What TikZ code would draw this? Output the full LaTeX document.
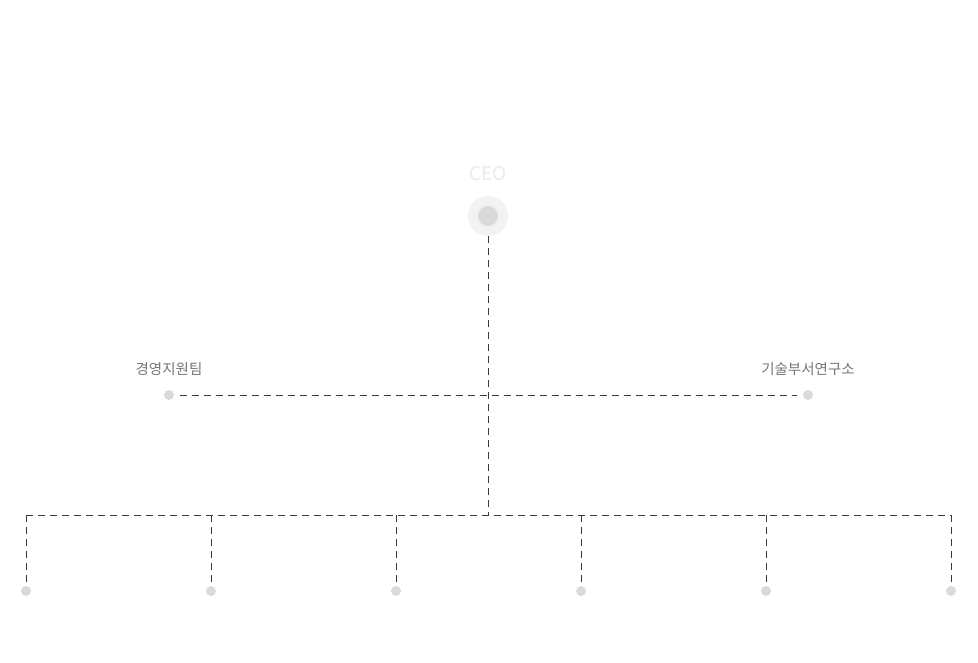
\documentclass[tikz,border=0pt]{standalone}
\usepackage{fontspec}
\setmainfont{Noto Sans CJK KR}
\usetikzlibrary{positioning}
\definecolor{dotgray}{HTML}{DADADA}
\definecolor{ringgray}{HTML}{F2F2F2}
\definecolor{labelgray}{HTML}{777777}
\definecolor{ceogray}{HTML}{EBEBEB}
\definecolor{linegray}{HTML}{3A3A3A}

\begin{document}
\begin{tikzpicture}[x=1pt,y=-1pt]
\tikzstyle{dot}=[circle, inner sep=0pt, minimum size = 10pt, fill = dotgray]
\tikzstyle{label}=[text = labelgray, font=\fontsize{14.5}{16}\selectfont]
\tikzstyle{connect}=[draw = linegray, line width=1pt, dash pattern=on 7pt off 5pt]

\useasboundingbox[fill=white] (0,0) rectangle (978,662);

% CEO
\node[text = ceogray, font=\fontsize{19}{21}\selectfont] at (488,174) (ceotext) {CEO};
\node[circle, inner sep=0pt, minimum size = 40pt, fill = ringgray] at (488,216) (ceo) {};
\node[dot, minimum size = 20pt] at (488,216) (ceodot) {};

% support teams
\node[dot] at (169,395) (mgmt) {};
\node[dot] at (808,395) (lab) {};
\node[label] at (169,369) (mgmttext) {경영지원팀};
\node[label] at (808,369) (labtext) {기술부서연구소};

% bottom row
\node[dot] at (26,591) (team1) {};
\node[dot] at (211,591) (team2) {};
\node[dot] at (396,591) (team3) {};
\node[dot] at (581,591) (team4) {};
\node[dot] at (766,591) (team5) {};
\node[dot] at (951,591) (team6) {};
\coordinate (bus) at (488,515);
\coordinate (bus1) at (26,515);
\coordinate (bus2) at (211,515);
\coordinate (bus3) at (396,515);
\coordinate (bus4) at (581,515);
\coordinate (bus5) at (766,515);
\coordinate (bus6) at (951,515);

\path (ceo) edge [connect] (bus);
\path (mgmt) edge [connect, shorten <=6pt, shorten >=6pt] (lab);
\path (bus1) edge [connect] (bus6);
\path (bus1) edge [connect, shorten >=1pt] (team1);
\path (bus2) edge [connect, shorten >=1pt] (team2);
\path (bus3) edge [connect, shorten >=1pt] (team3);
\path (bus4) edge [connect, shorten >=1pt] (team4);
\path (bus5) edge [connect, shorten >=1pt] (team5);
\path (bus6) edge [connect, shorten >=1pt] (team6);
\end{tikzpicture}
\end{document}
